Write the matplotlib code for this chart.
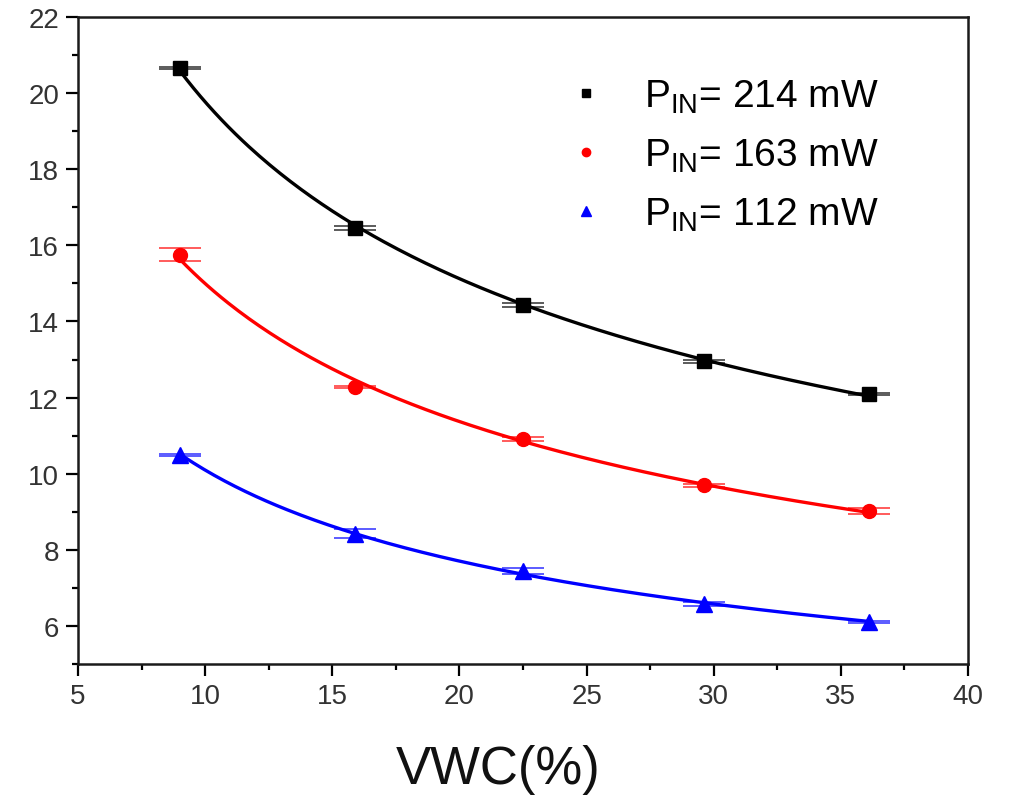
import numpy as np
import matplotlib as mpl
mpl.use("Agg")
import matplotlib.pyplot as plt

mpl.rcParams.update({
    "font.family": ["Liberation Sans", "DejaVu Sans"],
    "mathtext.fontset": "custom",
    "mathtext.rm": "Liberation Sans",
    "mathtext.it": "Liberation Sans",
    "axes.unicode_minus": False,
})

vwc = [9.0, 15.9, 22.5, 29.6, 36.1]

p214 = [20.66, 16.46, 14.43, 12.96, 12.10]
p214_err = [0.03, 0.05, 0.06, 0.04, 0.03]
p163 = [15.75, 12.28, 10.91, 9.70, 9.02]
p163_err = [0.17, 0.03, 0.05, 0.04, 0.08]
p112 = [10.49, 8.42, 7.44, 6.58, 6.10]
p112_err = [0.03, 0.12, 0.08, 0.06, 0.03]

labels = [r"P$_{\mathrm{IN}}$= 214 mW",
          r"P$_{\mathrm{IN}}$= 163 mW",
          r"P$_{\mathrm{IN}}$= 112 mW"]
colors = ["black", "#ff0000", "#0000ff"]
markers = ["s", "o", "^"]
msizes = [10, 10, 11]

fig = plt.figure(figsize=(10.09, 8.04), dpi=100)
ax = fig.add_axes([0.0773, 0.1729, 0.8821, 0.8047])

handles = []
for y, err, lab, c, m, ms in zip([p214, p163, p112],
                                 [p214_err, p163_err, p112_err],
                                 labels, colors, markers, msizes):
    x = np.array(vwc)
    y = np.array(y)
    # power-law fit y = a * x^b
    b, loga = np.polyfit(np.log(x), np.log(y), 1)
    xf = np.linspace(x[0], x[-1], 200)
    ax.plot(xf, np.exp(loga) * xf ** b, color=c, lw=2.4, zorder=2)
    ax.errorbar(x, y, yerr=err, fmt="none", ecolor=c, elinewidth=1.2,
                capsize=15, capthick=1.2, alpha=0.75, zorder=3)
    h, = ax.plot(x, y, ls="none", marker=m, ms=ms, color=c, zorder=4,
                 label=lab)
    handles.append(h)

ax.set_xlim(5, 40)
ax.set_ylim(5, 22)
ax.set_xticks(np.arange(5, 41, 5))
ax.set_yticks(np.arange(6, 23, 2))
ax.set_xticks(np.arange(7.5, 40, 5), minor=True)
ax.set_yticks(np.arange(5, 22, 2), minor=True)

for s in ax.spines.values():
    s.set_linewidth(1.8)
    s.set_color("#1a1a1a")
ax.tick_params(which="major", direction="out", length=8.5, width=1.6,
               labelsize=20, labelcolor="#333333", pad=5,
               top=False, right=False)
ax.tick_params(which="minor", direction="out", length=4.5, width=1.6,
               top=False, right=False)

fig.text(498 / 1009, 1 - 770 / 804, "VWC(%)", fontsize=38,
         ha="center", va="center", color="#111111")

leg = ax.legend(handles=handles, loc="upper left",
                bbox_to_anchor=(0.54, 0.93), frameon=False, fontsize=28,
                markerscale=0.6, handlelength=0.6, handletextpad=1.2,
                labelspacing=0.55, borderaxespad=0)

fig.savefig("out.png", dpi=100)
